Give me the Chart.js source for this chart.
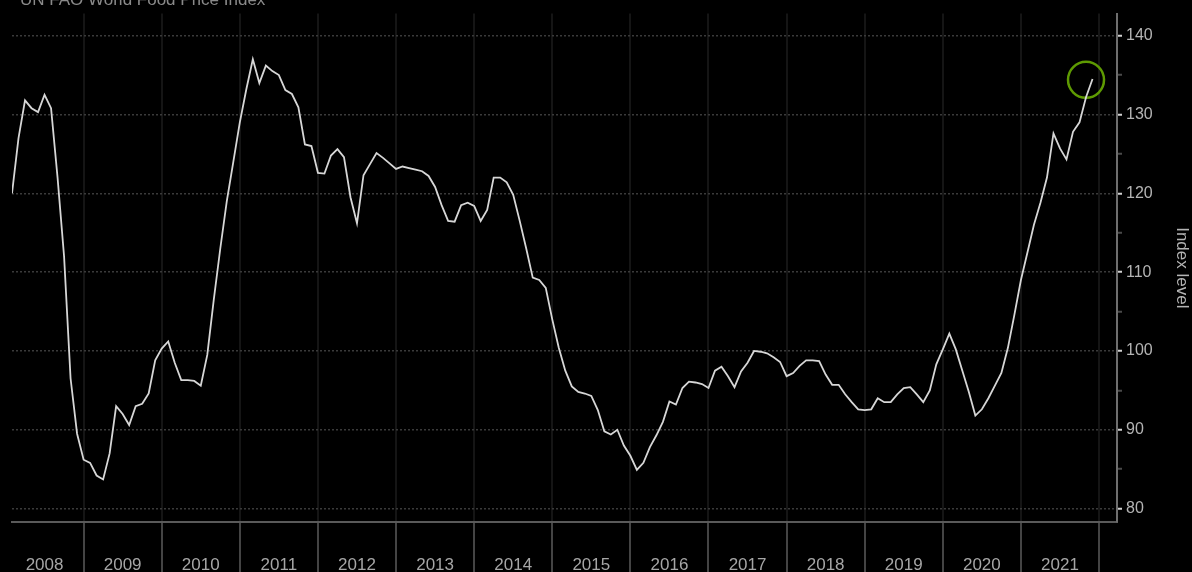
<!DOCTYPE html>
<html>
<head>
<meta charset="utf-8">
<script src="https://cdn.jsdelivr.net/npm/chart.js@4.4.0/dist/chart.umd.min.js"></script>
<style>
  html, body { margin: 0; padding: 0; background: #000; }
  #wrap { width: 1192px; height: 572px; }
</style>
</head>
<body>
<div id="wrap"><canvas id="chart"></canvas></div>
<script>
// monthly index readings, Jan..Dec (2021 ends in Nov)
const years = [2008, 2009, 2010, 2011, 2012, 2013, 2014, 2015, 2016, 2017, 2018, 2019, 2020, 2021];
const y2008 = [120, 127, 131.8, 130.8, 130.3, 132.5, 130.8, 122, 112, 96.5, 89.5, 86.2];
const y2009 = [85.8, 84.2, 83.7, 87, 93, 92, 90.6, 93, 93.3, 94.6, 98.8, 100.3];
const y2010 = [101.2, 98.5, 96.3, 96.3, 96.2, 95.6, 99.5, 106.5, 113, 119, 124, 129];
const y2011 = [133.2, 137, 134, 136.2, 135.5, 135, 133.1, 132.6, 130.9, 126.2, 126, 122.6];
const y2012 = [122.5, 124.8, 125.6, 124.6, 119.5, 116.2, 122.3, 123.7, 125.1, 124.5, 123.8, 123.1];
const y2013 = [123.4, 123.2, 123, 122.8, 122.2, 120.8, 118.5, 116.5, 116.4, 118.5, 118.8, 118.4];
const y2014 = [116.5, 117.9, 122, 122, 121.4, 119.8, 116.5, 113, 109.3, 109, 108, 104];
const y2015 = [100.4, 97.5, 95.5, 94.8, 94.6, 94.3, 92.5, 89.8, 89.4, 90, 88, 86.7];
const y2016 = [84.9, 85.8, 87.8, 89.3, 91, 93.6, 93.2, 95.3, 96.1, 96, 95.8, 95.3];
const y2017 = [97.5, 98, 96.8, 95.4, 97.4, 98.5, 100, 99.9, 99.7, 99.2, 98.6, 96.8];
const y2018 = [97.2, 98.1, 98.8, 98.8, 98.7, 97, 95.7, 95.7, 94.5, 93.5, 92.6, 92.5];
const y2019 = [92.6, 94, 93.5, 93.5, 94.5, 95.3, 95.4, 94.5, 93.5, 95, 98.3, 100.2];
const y2020 = [102.2, 100.2, 97.5, 94.8, 91.8, 92.6, 94, 95.6, 97.2, 100.4, 104.6, 109];
const y2021 = [112.5, 116, 118.8, 122, 127.6, 125.7, 124.3, 127.8, 129, 132.2, 134.5];
const yearValues = [y2008, y2009, y2010, y2011, y2012, y2013, y2014, y2015, y2016, y2017, y2018, y2019, y2020, y2021];

const yTicks = [80, 90, 100, 110, 120, 130, 140];
const highlightPoint = [2021 + 10 / 12, 134.4];   // green ring, Oct 2021
const chartTitle = 'UN FAO World Food Price Index';
const axisTitle = 'Index level';

// month-end positions
const points = [];
years.forEach((yr, i) => {
  yearValues[i].forEach((v, m) => points.push({ x: yr + (m + 1) / 12, y: v }));
});

const isWhole = v => Math.abs(v - Math.round(v)) < 1e-6;

const blackBg = {
  id: 'blackBg',
  beforeDraw(chart) {
    const c = chart.ctx;
    c.save();
    c.fillStyle = '#000';
    c.fillRect(0, 0, chart.width, chart.height);
    c.restore();
  },
  afterDraw(chart) {
    // the header is cut by the top edge in the original
    const c = chart.ctx;
    c.save();
    c.fillStyle = '#8a8a8a';
    c.font = '17px "Liberation Sans", Arial, sans-serif';
    c.textBaseline = 'alphabetic';
    c.fillText(chartTitle, 20, 5);
    c.restore();
  }
};

new Chart(document.getElementById('chart'), {
  type: 'line',
  data: {
    datasets: [{
      data: points,
      borderColor: '#d6d6d6',
      borderWidth: 1.8,
      pointRadius: 0,
      tension: 0
    }, {
      data: [{ x: highlightPoint[0], y: highlightPoint[1] }],
      showLine: false,
      pointRadius: 18,
      pointHoverRadius: 18,
      pointBorderWidth: 2.5,
      pointBorderColor: '#5e9a02',
      pointBackgroundColor: 'rgba(0,0,0,0)'
    }]
  },
  options: {
    responsive: true,
    maintainAspectRatio: false,
    animation: false,
    events: [],
    layout: { autoPadding: false, padding: { left: 12, top: 13, right: 0, bottom: 0 } },
    plugins: { legend: { display: false }, tooltip: { enabled: false } },
    scales: {
      x: {
        type: 'linear',
        min: 2008 + 1 / 12,
        max: 2022.23,
        afterBuildTicks(scale) {
          const t = [];
          years.forEach(yr => { t.push({ value: yr + 0.5 }); t.push({ value: yr + 1 }); });
          scale.ticks = t;
        },
        afterFit(scale) { scale.height = 50; },
        grid: {
          color: c => isWhole(c.tick.value) ? '#151515' : 'rgba(0,0,0,0)',
          lineWidth: 2,
          tickLength: 50,
          tickColor: c => isWhole(c.tick.value) ? '#444' : 'rgba(0,0,0,0)',
          tickWidth: 2
        },
        border: { color: '#5a5a5a', width: 2 },
        ticks: {
          autoSkip: false,
          maxRotation: 0,
          padding: -17,
          color: '#a6a6a6',
          font: { family: '"Liberation Sans", Arial, sans-serif', size: 17 },
          callback: v => isWhole(v) ? '' : String(Math.floor(v))
        }
      },
      y: {
        position: 'right',
        min: 78.3,
        max: 142.8,
        afterBuildTicks(scale) {
          const t = [];
          yTicks.forEach(v => { t.push({ value: v }); if (v < 140) t.push({ value: v + 5 }); });
          scale.ticks = t;
        },
        afterFit(scale) { scale.width = 75; },
        grid: {
          color: c => c.tick.value % 10 === 0 ? '#3a3a3a' : 'rgba(0,0,0,0)',
          lineWidth: 1.5,
          tickLength: 5,
          tickColor: c => c.tick.value % 10 === 0 ? '#d0d0d0' : '#4a4a4a',
          tickWidth: 2
        },
        border: { color: '#6e6e6e', width: 2, dash: [2, 2] },
        ticks: {
          autoSkip: false,
          padding: 4,
          color: '#b4b4b4',
          font: { family: '"Liberation Sans", Arial, sans-serif', size: 16 },
          callback: v => v % 10 === 0 ? String(v) : ''
        },
        title: {
          display: true,
          text: axisTitle,
          color: '#b4b4b4',
          padding: { top: 0, bottom: 2 },
          font: { family: '"Liberation Sans", Arial, sans-serif', size: 17 }
        }
      }
    }
  },
  plugins: [blackBg]
});
</script>
</body>
</html>
